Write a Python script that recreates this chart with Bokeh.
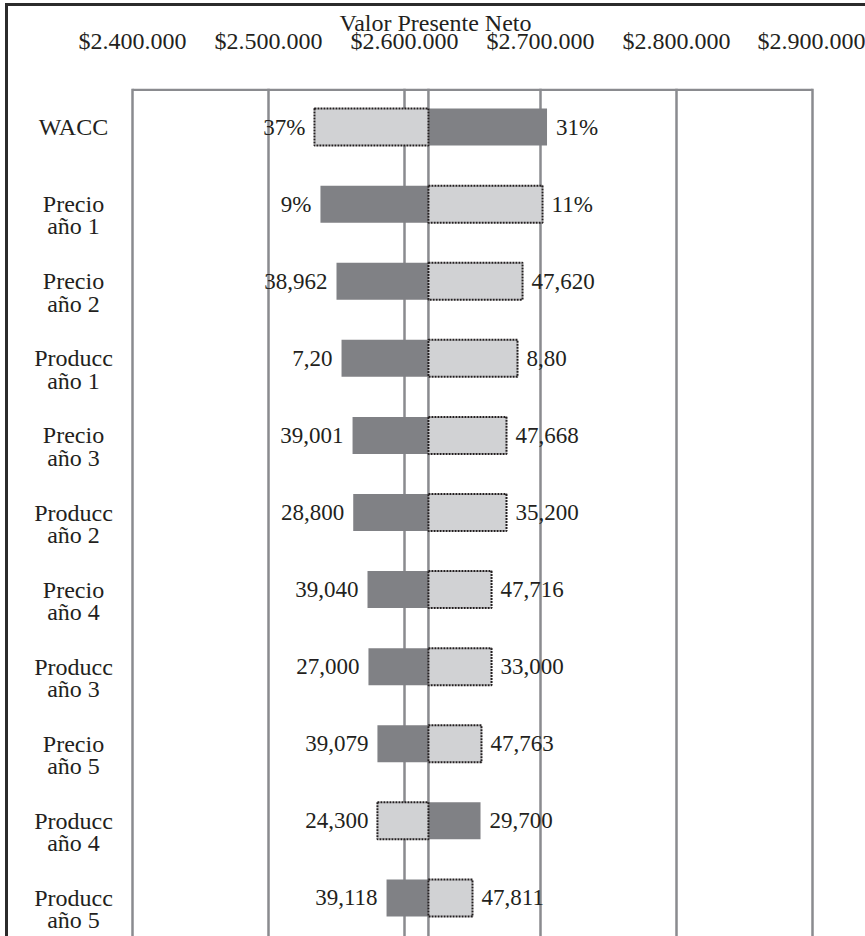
from bokeh.plotting import figure
from bokeh.models import Range1d, FactorRange, FixedTicker, Span, ColumnDataSource
from bokeh.core.properties import value
from bokeh.embed import file_html
from bokeh.resources import INLINE

categories = ["WACC", "Precio\naño 1", "Precio\naño 2", "Producc\naño 1", "Precio\naño 3",
              "Producc\naño 2", "Precio\naño 4", "Producc\naño 3", "Precio\naño 5",
              "Producc\naño 4", "Producc\naño 5"]
base_npv = 2617600
dark_end = [2704800, 2538200, 2550000, 2553700, 2561800, 2562300, 2572800, 2573500, 2580100, 2655900, 2586800]
light_end = [2533800, 2701500, 2686800, 2683100, 2675000, 2675000, 2664000, 2664000, 2656600, 2580100, 2650000]
left_labels = ["37%", "9%", "38,962", "7,20", "39,001", "28,800", "39,040", "27,000", "39,079", "24,300", "39,118"]
right_labels = ["31%", "11%", "47,620", "8,80", "47,668", "35,200", "47,716", "33,000", "47,763", "29,700", "47,811"]
tick_values = [2400000, 2500000, 2600000, 2700000, 2800000, 2900000]
tick_labels = ["$2.400.000", "$2.500.000", "$2.600.000", "$2.700.000", "$2.800.000", "$2.900.000"]

FONT = "Liberation Serif"
TXT = "#231F20"
GRID = "#8A8B8F"
DARK = "#808185"
LIGHT = "#D1D2D4"

# layout (pixels): the value scale spans 680 px; label column to the left, margin to the right
W, H = 860, 933
LEFT_PX, RIGHT_PX = 127, 53
upp = (tick_values[-1] - tick_values[0]) / (W - LEFT_PX - RIGHT_PX)   # value units per pixel
x_start = tick_values[0] - LEFT_PX * upp
x_end = tick_values[-1] + RIGHT_PX * upp
label_x = tick_values[0] - 59 * upp
frame_top = len(categories) - 0.017   # just inside the top of the plot area

src = ColumnDataSource(dict(
    cat=categories,
    base=[base_npv] * len(categories),
    dark=dark_end,
    light=light_end,
    lo=[min(a, b) for a, b in zip(dark_end, light_end)],
    hi=[max(a, b) for a, b in zip(dark_end, light_end)],
    ltxt=left_labels,
    rtxt=right_labels,
))

p = figure(width=W, height=H,
           x_range=Range1d(x_start, x_end),
           y_range=FactorRange(*reversed(categories)),
           x_axis_location="above", y_axis_location=None,
           output_backend="svg", toolbar_location=None,
           min_border_left=0, min_border_right=0, min_border_top=85, min_border_bottom=0)
p.margin = (3, 0, 0, 5)
p.styles = {"box-shadow": "inset 3px 3px 0 0 #2B2B2B"}
p.outline_line_color = None
p.background_fill_color = None
p.border_fill_color = None

# grid, plot-area top edge and base line
p.xgrid.ticker = FixedTicker(ticks=tick_values)
p.xgrid.grid_line_color = GRID
p.xgrid.grid_line_width = 2.5
p.ygrid.grid_line_color = None
p.segment(x0=[tick_values[0]], x1=[tick_values[-1]], y0=[frame_top], y1=[frame_top],
          line_color=GRID, line_width=2.5)
p.add_layout(Span(location=base_npv, dimension="height", line_color=GRID, line_width=2.5, level="underlay"))

# bars
p.hbar(y="cat", left="base", right="dark", height=0.48, source=src, fill_color=DARK, line_color=None)
p.hbar(y="cat", left="base", right="light", height=0.48, source=src, fill_color=LIGHT,
       line_color=TXT, line_width=2, line_dash="2 1")

# value labels
p.text(x="lo", y="cat", text="ltxt", source=src, x_offset=-9, text_align="right",
       text_baseline="middle", text_font=value(FONT), text_font_size="23px", text_color=TXT)
p.text(x="hi", y="cat", text="rtxt", source=src, x_offset=9, text_align="left",
       text_baseline="middle", text_font=value(FONT), text_font_size="23px", text_color=TXT)

# category labels
p.text(x=label_x, y="cat", text="cat", source=src, y_offset=-13, text_align="center",
       text_baseline="top", text_font=value(FONT), text_font_size="24px", text_color=TXT,
       text_line_height=0.86)

# top axis
xa = p.xaxis[0]
xa.ticker = FixedTicker(ticks=tick_values)
xa.major_label_overrides = {v: s for v, s in zip(tick_values, tick_labels)}
xa.axis_label = "Valor Presente Neto"
xa.axis_label_text_font = FONT
xa.axis_label_text_font_size = "24px"
xa.axis_label_text_font_style = "normal"
xa.axis_label_text_color = TXT
xa.axis_label_standoff = -11
xa.major_label_text_font = FONT
xa.major_label_text_font_size = "24px"
xa.major_label_text_color = TXT
xa.major_label_standoff = 35
xa.major_tick_in = 0
xa.major_tick_out = 0
xa.minor_tick_line_color = None
xa.axis_line_color = None

open("out.html", "w").write(file_html(p, INLINE))
